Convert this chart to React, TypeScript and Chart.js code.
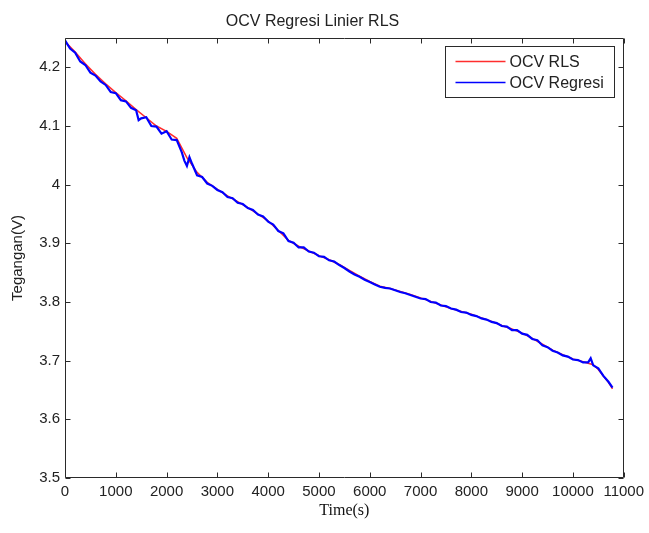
import React, { useEffect, useRef } from "react";
import { Chart, registerables } from "chart.js";

Chart.register(...registerables);

const chartTitle = "OCV Regresi Linier RLS";
const xAxisTitle = "Time(s)";
const yAxisTitle = "Tegangan(V)";
const seriesNames = ["OCV RLS", "OCV Regresi"];
const seriesColors = ["rgb(255,45,45)", "rgb(0,0,255)"];

const xTicks = [0, 1000, 2000, 3000, 4000, 5000, 6000, 7000, 8000, 9000, 10000, 11000];
const yTicks = [3.5, 3.6, 3.7, 3.8, 3.9, 4.0, 4.1, 4.2];
const xRange = [0, 11000];
const yRange = [3.5, 4.25];

const rlsTime = [
  0, 200, 400, 600, 800, 1000, 1200, 1400, 1600, 1800, 2000, 2200, 2400, 2600, 2800, 3000,
  3200, 3400, 3600, 3800, 4000, 4200, 4400, 4600, 4800, 5000, 5200, 5400, 5600, 5800, 6000,
  6200, 6400, 6600, 6800, 7000, 7200, 7400, 7600, 7800, 8000, 8200, 8400, 8600, 8800, 9000,
  9200, 9400, 9600, 9800, 10000, 10200, 10400, 10500, 10600, 10700, 10780,
];
const rlsVolt = [
  4.244, 4.226, 4.206, 4.188, 4.172, 4.157, 4.143, 4.128, 4.114, 4.1, 4.091, 4.079, 4.046,
  4.021, 4.004, 3.992, 3.981, 3.971, 3.961, 3.95, 3.938, 3.922, 3.905, 3.895, 3.887, 3.879,
  3.872, 3.864, 3.854, 3.844, 3.835, 3.827, 3.823, 3.818, 3.813, 3.807, 3.801, 3.795, 3.789,
  3.784, 3.779, 3.773, 3.767, 3.76, 3.754, 3.747, 3.738, 3.728, 3.718, 3.71, 3.703, 3.698,
  3.693, 3.685, 3.674, 3.663, 3.652,
];

const regTime = [
  0, 100, 200, 300, 400, 500, 600, 700, 800, 900, 1000, 1100, 1200, 1300, 1400, 1450, 1500,
  1600, 1700, 1800, 1900, 2000, 2100, 2200, 2300, 2350, 2400, 2450, 2500, 2600, 2700, 2800,
  2900, 3000, 3100, 3200, 3300, 3400, 3500, 3600, 3700, 3800, 3900, 4000, 4100, 4200, 4300,
  4400, 4500, 4600, 4700, 4800, 4900, 5000, 5100, 5200, 5300, 5400, 5500, 5600, 5700, 5800,
  5900, 6000, 6100, 6200, 6300, 6400, 6500, 6600, 6700, 6800, 6900, 7000, 7100, 7200, 7300,
  7400, 7500, 7600, 7700, 7800, 7900, 8000, 8100, 8200, 8300, 8400, 8500, 8600, 8700, 8800,
  8900, 9000, 9100, 9200, 9300, 9400, 9500, 9600, 9700, 9800, 9900, 10000, 10100, 10200,
  10300, 10350, 10400, 10500, 10600, 10700, 10780,
];
const regVolt = [
  4.246, 4.232, 4.225, 4.21, 4.204, 4.191, 4.186, 4.176, 4.17, 4.158, 4.156, 4.144, 4.142,
  4.131, 4.127, 4.11, 4.113, 4.115, 4.1, 4.099, 4.087, 4.091, 4.077, 4.076, 4.055, 4.041,
  4.032, 4.047, 4.036, 4.016, 4.013, 4.002, 3.998, 3.991, 3.987, 3.979, 3.977, 3.969, 3.967,
  3.96, 3.957, 3.949, 3.946, 3.937, 3.932, 3.921, 3.917, 3.904, 3.901, 3.893, 3.893, 3.886,
  3.884, 3.878, 3.877, 3.871, 3.869, 3.863, 3.858, 3.852, 3.847, 3.843, 3.838, 3.834, 3.83,
  3.826, 3.824, 3.823, 3.82, 3.817, 3.815, 3.812, 3.809, 3.806, 3.805, 3.8, 3.799, 3.794,
  3.793, 3.789, 3.787, 3.783, 3.782, 3.778, 3.776, 3.772, 3.77, 3.766, 3.764, 3.759, 3.758,
  3.752, 3.752, 3.746, 3.744, 3.737, 3.735, 3.726, 3.723, 3.717, 3.714, 3.709, 3.707, 3.702,
  3.701, 3.697, 3.697, 3.704, 3.692, 3.687, 3.674, 3.664, 3.654,
];

const FONT = "'Liberation Sans', Arial, Helvetica, sans-serif";
const SERIF = "'Liberation Serif', 'Times New Roman', serif";

const frameAndLegend = {
  id: "frameAndLegend",
  afterDatasetsDraw(chart: any) {
    const { ctx, chartArea: a, scales } = chart;
    ctx.save();
    ctx.strokeStyle = "#2a2a2a";
    ctx.lineWidth = 1;
    const l = Math.round(a.left) + 0.5;
    const r = Math.round(a.right) - 0.5;
    const t = Math.round(a.top) + 0.5;
    const b = Math.round(a.bottom) - 0.5;
    ctx.beginPath();
    ctx.rect(l, t, r - l, b - t);
    const L = 5;
    for (const v of xTicks) {
      const x = Math.round(scales.x.getPixelForValue(v)) + 0.5;
      ctx.moveTo(x, b);
      ctx.lineTo(x, b - L);
      ctx.moveTo(x, t);
      ctx.lineTo(x, t + L);
    }
    for (const v of yTicks) {
      const y = Math.round(scales.y.getPixelForValue(v)) + 0.5;
      ctx.moveTo(l, y);
      ctx.lineTo(l + L, y);
      ctx.moveTo(r, y);
      ctx.lineTo(r - L, y);
    }
    ctx.stroke();

    // legend box (MATLAB style, inside top-right)
    ctx.font = `16px ${FONT}`;
    const names = chart.data.datasets.map((d: any) => d.label);
    const maxW = Math.max(...names.map((n: string) => ctx.measureText(n).width));
    const lineLen = 50;
    const boxRight = Math.round(a.right) - 9.5;
    const boxTop = Math.round(a.top) + 8.5;
    const boxW = 10 + lineLen + 4 + maxW + 11;
    const boxLeft = Math.round(boxRight - boxW) + 0.5;
    const rowH = 21;
    const boxH = 51;
    ctx.fillStyle = "#fff";
    ctx.fillRect(boxLeft, boxTop, boxRight - boxLeft, boxH);
    ctx.strokeStyle = "#2a2a2a";
    ctx.strokeRect(boxLeft, boxTop, boxRight - boxLeft, boxH);
    chart.data.datasets.forEach((d: any, i: number) => {
      const y = boxTop + 15 + i * rowH;
      ctx.strokeStyle = d.borderColor;
      ctx.lineWidth = 1.5;
      ctx.beginPath();
      ctx.moveTo(boxLeft + 10, y);
      ctx.lineTo(boxLeft + 10 + lineLen, y);
      ctx.stroke();
      ctx.fillStyle = "#222";
      ctx.textBaseline = "middle";
      ctx.textAlign = "left";
      ctx.fillText(d.label, boxLeft + 10 + lineLen + 4, y + 1);
    });
    ctx.restore();
  },
};

export default function App() {
  const ref = useRef<HTMLCanvasElement | null>(null);

  useEffect(() => {
    document.body.style.margin = "0";
    const canvas = ref.current;
    if (!canvas) return;
    const chart = new Chart(canvas, {
      type: "line",
      data: {
        datasets: [
          {
            label: seriesNames[0],
            data: rlsTime.map((t, i) => ({ x: t, y: rlsVolt[i] })),
            borderColor: seriesColors[0],
            borderWidth: 1.5,
            pointRadius: 0,
            tension: 0,
            order: 2,
          },
          {
            label: seriesNames[1],
            data: regTime.map((t, i) => ({ x: t, y: regVolt[i] })),
            borderColor: seriesColors[1],
            borderWidth: 2.2,
            pointRadius: 0,
            tension: 0,
            order: 1,
          },
        ],
      },
      options: {
        animation: false,
        responsive: false,
        events: [],
        layout: { padding: { left: 0, right: 24, top: 0, bottom: 0 } },
        plugins: {
          legend: { display: false },
          tooltip: { enabled: false },
          title: {
            display: true,
            text: chartTitle,
            color: "#222",
            font: { family: FONT, size: 16, weight: "normal" },
            padding: { top: 12.4, bottom: 6.4 },
          },
        },
        scales: {
          x: {
            type: "linear",
            min: xRange[0],
            max: xRange[1],
            afterFit: (s: any) => {
              s.height = 55;
            },
            afterBuildTicks: (s: any) => {
              s.ticks = xTicks.map((v) => ({ value: v }));
            },
            grid: { display: false, drawTicks: false },
            border: { display: false },
            ticks: {
              autoSkip: false,
              maxRotation: 0,
              padding: 5,
              color: "#222",
              font: { family: FONT, size: 15 },
              callback: (v: any) => String(v),
            },
            title: {
              display: true,
              text: xAxisTitle,
              color: "#111",
              font: { family: SERIF, size: 16 },
              padding: { top: 0, bottom: 13 },
            },
          },
          y: {
            type: "linear",
            min: yRange[0],
            max: yRange[1],
            afterFit: (s: any) => {
              s.width = 65;
            },
            afterBuildTicks: (s: any) => {
              s.ticks = yTicks.map((v) => ({ value: v }));
            },
            grid: { display: false, drawTicks: false },
            border: { display: false },
            ticks: {
              padding: 5,
              color: "#222",
              font: { family: FONT, size: 15 },
              callback: (v: any) => String(Number(Number(v).toFixed(2))),
            },
            title: {
              display: true,
              text: yAxisTitle,
              color: "#222",
              font: { family: FONT, size: 15 },
              padding: { top: 9, bottom: 0 },
            },
          },
        },
      },
      plugins: [frameAndLegend],
    });
    return () => chart.destroy();
  }, []);

  return (
    <div style={{ width: 649, height: 533, background: "#fff" }}>
      <canvas ref={ref} width={649} height={533} style={{ display: "block" }} />
    </div>
  );
}
